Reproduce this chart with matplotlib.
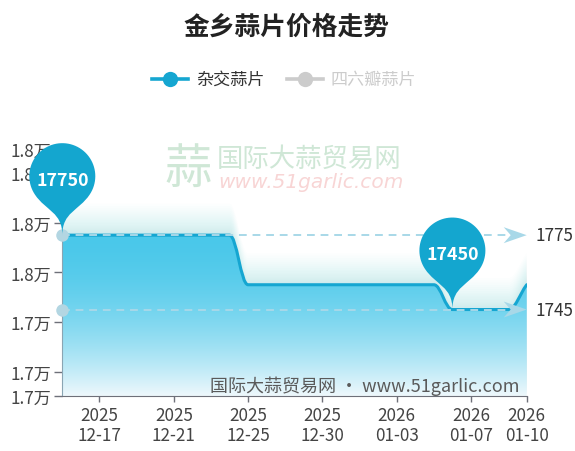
import numpy as np
import matplotlib
matplotlib.use('Agg')
import matplotlib.pyplot as plt
from matplotlib.path import Path
from matplotlib.patches import PathPatch, Polygon
from matplotlib.lines import Line2D
from matplotlib.transforms import Affine2D

plt.rcParams['font.family'] = ['Noto Sans CJK SC', 'DejaVu Sans']

W, H = 575, 452

TITLE = '金乡蒜片价格走势'
SERIES_NAMES = ['杂交蒜片', '四六瓣蒜片']

dates = ['2025-12-15', '2025-12-16', '2025-12-17', '2025-12-18', '2025-12-19',
         '2025-12-20', '2025-12-21', '2025-12-22', '2025-12-23', '2025-12-24',
         '2025-12-25', '2025-12-26', '2025-12-27', '2025-12-29', '2025-12-30',
         '2025-12-31', '2026-01-01', '2026-01-02', '2026-01-03', '2026-01-04',
         '2026-01-05', '2026-01-06', '2026-01-07', '2026-01-08', '2026-01-09',
         '2026-01-10']
prices = [17750, 17750, 17750, 17750, 17750, 17750, 17750, 17750, 17750, 17750,
          17550, 17550, 17550, 17550, 17550, 17550, 17550, 17550, 17550, 17550,
          17550, 17450, 17450, 17450, 17450, 17550]

x_label_idx = [2, 6, 10, 14, 18, 22, 25]
y_ticks = [17100, 17200, 17400, 17600, 17800, 18000, 18100]
y_min, y_max = 17100, 18100
mark_labels = ['1775', '1745']

BLUE = '#15a6d1'
MARK_BLUE = '#a8d8e8'


def fx(x):
    return x / W


def fy(y):
    return 1 - y / H


def smooth_path(xs, ys, k=0.4):
    # monotone cubic through the points, drawn as bezier segments
    n = len(xs)
    d = np.diff(ys) / np.diff(xs)
    m = np.zeros(n)
    for i in range(1, n - 1):
        if d[i - 1] * d[i] > 0:
            m[i] = 2 / (1 / d[i - 1] + 1 / d[i])
    m[0] = 0 if d[0] == 0 else d[0]
    m[-1] = d[-1]
    verts = [(xs[0], ys[0])]
    codes = [Path.MOVETO]
    for i in range(n - 1):
        h = xs[i + 1] - xs[i]
        verts += [(xs[i] + h * k, ys[i] + m[i] * h * k),
                  (xs[i + 1] - h * k, ys[i + 1] - m[i + 1] * h * k),
                  (xs[i + 1], ys[i + 1])]
        codes += [Path.CURVE4] * 3
    return verts, codes


def pin_path(r, c):
    dy = r * r / c
    dx = np.sqrt(r * r - dy * dy)
    a = np.arcsin(dy / r)
    th = np.linspace(np.pi + a, -a, 60)
    arc = np.column_stack([r * np.cos(th), c + r * np.sin(th)])
    tx, ty = np.sin(a), np.cos(a)
    cp1, cp2 = 0.6 * r, 0.7 * r
    verts = [tuple(p) for p in arc]
    verts += [(dx - tx * cp1, c - dy - ty * cp1), (0, cp2), (0, 0),
              (0, cp2), (-dx + tx * cp1, c - dy - ty * cp1), (-dx, c - dy),
              (-dx, c - dy)]
    codes = [Path.MOVETO] + [Path.LINETO] * (len(arc) - 1) + [Path.CURVE4] * 6 + [Path.CLOSEPOLY]
    return Path(verts, codes)


def main():
    fig = plt.figure(figsize=(W / 100, H / 100), dpi=100)
    fig.patch.set_facecolor('white')
    ax = fig.add_axes([fx(62.3), fy(397.3), (526.7 - 62.3) / W, (397.3 - 149.4) / H])

    n = len(prices)
    xs = np.arange(n, dtype=float)
    ys = np.array(prices, dtype=float)
    ax.set_xlim(0, n - 1)
    ax.set_ylim(y_min, y_max)

    # watermark behind the plot
    fig.text(fx(188), fy(170), '蒜', fontsize=34, color='#cfe7d6', ha='center', va='center', zorder=0)
    fig.text(fx(217), fy(159), '国际大蒜贸易网', fontsize=19, color='#cfe7d6', ha='left', va='center')
    fig.text(fx(218), fy(183), 'www.51garlic.com', fontsize=14.5, color='#f8d5d5', style='italic',
             family='DejaVu Sans', ha='left', va='center')

    verts, codes = smooth_path(xs, ys)
    area_verts = verts + [(xs[-1], y_min), (xs[0], y_min), (xs[0], ys[0])]
    area_codes = codes + [Path.LINETO, Path.LINETO, Path.CLOSEPOLY]
    area_path = Path(area_verts, area_codes)

    # soft glow above the line
    for dpx in np.linspace(1, 5.6, 22) ** 2:
        glow = PathPatch(area_path, transform=ax.transData + Affine2D().translate(0, dpx),
                         facecolor='#8fd6ee', edgecolor='none', alpha=0.022, zorder=1)
        ax.add_patch(glow)

    area_patch = PathPatch(area_path, transform=ax.transData, facecolor='none', edgecolor='none')
    ax.add_patch(area_patch)
    t = np.linspace(0, 1, 256) ** 1.8
    top = np.array([74, 200, 234]) / 255
    bottom = np.array([238, 248, 252]) / 255
    grad = (top[None, :] * (1 - t[:, None]) + bottom[None, :] * t[:, None])[:, None, :]
    im = ax.imshow(grad, extent=[xs[0], xs[-1], y_min, ys.max()], aspect='auto',
                   origin='upper', zorder=2, interpolation='bilinear')
    im.set_clip_path(area_patch)
    ax.set_xlim(0, n - 1)
    ax.set_ylim(y_min, y_max)

    line = PathPatch(Path(verts, codes), facecolor='none', edgecolor=BLUE, lw=2.2,
                     capstyle='round', joinstyle='round', zorder=3)
    ax.add_patch(line)

    # axes styling
    for s in ['top', 'right']:
        ax.spines[s].set_visible(False)
    ax.spines['bottom'].set_color('#6e7079')
    ax.spines['left'].set_color('#8aa5b3')
    ax.spines['left'].set_bounds(y_min, ys[0])
    ax.set_xticks(x_label_idx)
    ax.set_xticklabels([dates[i][:4] + '\n' + dates[i][5:] for i in x_label_idx],
                       linespacing=1.15)
    ax.set_yticks(y_ticks)
    ax.set_yticklabels(['%.1f万' % (v / 10000) for v in y_ticks])
    ax.tick_params(axis='x', length=4, width=1, color='#6e7079', pad=3,
                   labelsize=12.3, labelcolor='#444444')
    ax.tick_params(axis='y', length=6, width=1, color='#6e7079', pad=2,
                   labelsize=12.3, labelcolor='#444444')

    # max / min mark lines
    mark_vals = [ys.max(), ys.min()]
    for v, lab in zip(mark_vals, mark_labels):
        ex, ey = ax.transData.transform((xs[-1], v))
        end_x = ax.transData.inverted().transform((ex - 18, ey))[0]
        ax.plot([xs[0], end_x], [v, v], color=MARK_BLUE, lw=1.4, ls=(0, (4, 3)), zorder=4)
        head = Polygon([(0, 0), (-23, 8), (-16, 0), (-23, -8)], closed=True,
                       transform=Affine2D().translate(ex, ey), facecolor=MARK_BLUE,
                       edgecolor='none', zorder=4, clip_on=False)
        ax.add_patch(head)
        ax.plot(xs[0], v, 'o', ms=9, color='#b3d6e2', mec='none', zorder=5, clip_on=False)
        ax.annotate(lab, xy=(xs[-1], v), xytext=(6, 0), textcoords='offset points',
                    ha='left', va='center', fontsize=12.3, color='#333333',
                    annotation_clip=False)

    # pins for max and min
    r, c = 33, 59
    for idx in [int(np.argmax(ys)), int(np.argmin(ys))]:
        px, py = ax.transData.transform((xs[idx], ys[idx]))
        pin = PathPatch(pin_path(r, c), transform=Affine2D().translate(px, py),
                        facecolor='#14a6cf', edgecolor='none', zorder=7, clip_on=False)
        ax.add_patch(pin)
        ax.annotate(str(prices[idx]), xy=(xs[idx], ys[idx]), xytext=(0, c * 0.72 - 2.5),
                    textcoords='offset points', ha='center', va='center', fontsize=12.8,
                    color='white', weight='bold', zorder=8, annotation_clip=False)

    # bottom watermark
    fig.text(fx(210), fy(386), '国际大蒜贸易网 • www.51garlic.com', fontsize=13,
             color='#5a5a5a', ha='left', va='center', zorder=5)

    # title and legend
    fig.text(fx(287), fy(27), TITLE, fontsize=18.5, weight='bold', color='#222222',
             ha='center', va='center')
    legend = [(152, BLUE, '#333333'), (287, '#cccccc', '#cccccc')]
    for (x0, col, tcol), name in zip(legend, SERIES_NAMES):
        fig.add_artist(Line2D([fx(x0), fx(x0 + 36)], [fy(80), fy(80)], color=col, lw=2.6,
                              transform=fig.transFigure))
        fig.add_artist(Line2D([fx(x0 + 18)], [fy(80)], marker='o', ms=11, color=col,
                              mec='none', transform=fig.transFigure))
        fig.text(fx(x0 + 44), fy(80), name, fontsize=12.3, color=tcol, ha='left', va='center')

    fig.savefig('out.png', dpi=100)
    plt.close(fig)


if __name__ == '__main__':
    main()
